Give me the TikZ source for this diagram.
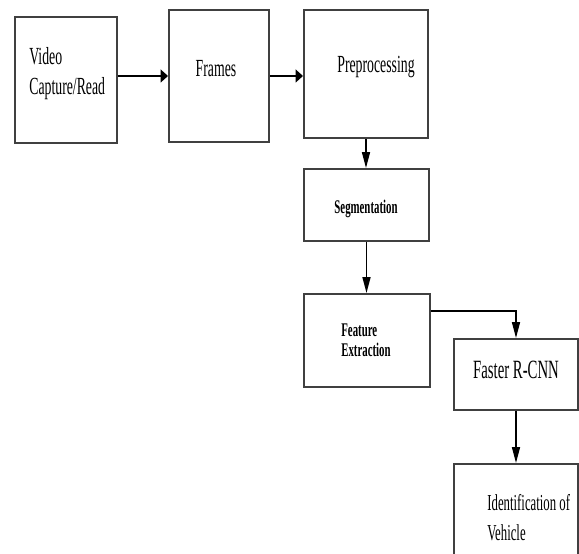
\documentclass[tikz,border=0pt]{standalone}
\usepackage{fontspec}
\setmainfont[FakeStretch=0.56]{Liberation Serif}
\usetikzlibrary{positioning, arrows.meta, calc, fit}

\begin{document}
\begin{tikzpicture}[
    x=0.02cm, y=-0.02cm,
    box/.style={draw=black!75, line width=1.1pt, inner sep=0pt},
    lbl/.style={inner sep=0pt, align=left, font=\fontsize{14}{17}\selectfont},
    blbl/.style={inner sep=0pt, align=left, font=\fontsize{11}{11.3}\selectfont\bfseries},
    harrow/.style={-{Triangle[length=1.5mm, width=2.6mm]}, line width=0.9pt},
    varrow/.style={-{Triangle[length=3.2mm, width=1.6mm]}, line width=0.9pt}
]
\useasboundingbox (0,0) rectangle (579,554);

% boxes
\node[box, fit={(15,17) (117,143)}]   (video)  {};
\node[box, fit={(169,10) (269,142)}]  (frames) {};
\node[box, fit={(304,10) (428,138)}]  (prep)   {};
\node[box, fit={(304,169) (429,241)}] (seg)    {};
\node[box, fit={(304,294) (430,387)}] (feat)   {};
\node[box, fit={(454,339) (578,410)}] (rcnn)   {};
\node[box, fit={(454,464) (578,580)}] (ident)  {};

% texts
\node[lbl, anchor=west] (video-txt) at (29,74) {Video\\Capture/Read};
\node[lbl] (frames-txt) at (216,69) {Frames};
\node[lbl] (prep-txt) at (376,67) {Preprocessing};
\node[blbl] (seg-txt) at (366,209) {Segmentation};
\node[blbl, anchor=west] (feat-txt) at (341,340) {Feature\\Extraction};
\node[lbl, font=\fontsize{15}{17}\selectfont] (rcnn-txt) at (516,370) {Faster R-CNN};
\node[lbl, anchor=west, font=\fontsize{13}{17}\selectfont] (ident-txt) at (487,518) {Identification of\\Vehicle};

% connectors
\draw[harrow] (video.east |- frames.west) -- (frames.west);
\draw[harrow] (frames.east) -- (frames.east -| prep.west);
\draw[varrow] (prep.south) -- (prep.south |- seg.north);
\draw[varrow] (seg.south) -- (seg.south |- feat.north);
\coordinate (feat-out) at ($(feat.north east)!0.19!(feat.south east)$);
\draw[varrow] (feat-out) -| (rcnn.north);
\draw[varrow] (rcnn.south) -- (ident.north);
\end{tikzpicture}
\end{document}
